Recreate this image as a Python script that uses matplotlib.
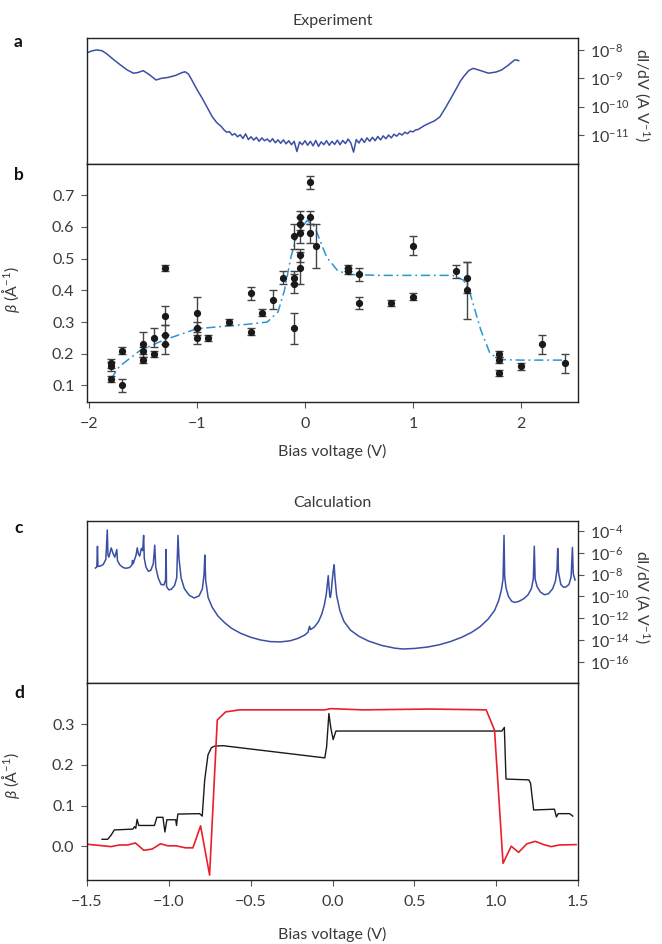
import numpy as np
import matplotlib
matplotlib.use("Agg")
import matplotlib.pyplot as plt
from matplotlib.ticker import FixedLocator, NullLocator, LogFormatterSciNotation

plt.rcParams['font.family'] = ['Lato', 'DejaVu Sans']
plt.rcParams['mathtext.fontset'] = 'custom'
plt.rcParams['mathtext.rm'] = 'Lato'
plt.rcParams['mathtext.it'] = 'Lato:italic'
plt.rcParams['mathtext.bf'] = 'Lato:bold'

# ---------------- Panel a: experimental dI/dV (log10 values) ----------------
exp_left_v = [-2.02, -1.97, -1.93, -1.88, -1.84, -1.78, -1.71, -1.65, -1.59, -1.55, -1.50,
              -1.45, -1.38, -1.33, -1.27, -1.20, -1.14, -1.11, -1.08, -1.05, -1.00, -0.95,
              -0.91, -0.86, -0.82]
exp_left_log = [-8.10, -8.03, -8.00, -8.03, -8.13, -8.32, -8.53, -8.70, -8.82, -8.80, -8.73,
                -8.85, -9.06, -9.00, -8.97, -8.90, -8.80, -8.77, -8.85, -9.05, -9.40, -9.72,
                -10.0, -10.35, -10.55]
exp_mid_v = [-0.800, -0.775, -0.750, -0.725, -0.700, -0.675, -0.650, -0.625, -0.600, -0.575,
             -0.550, -0.525, -0.500, -0.475, -0.450, -0.425, -0.400, -0.375, -0.350, -0.325,
             -0.300, -0.275, -0.250, -0.225, -0.200, -0.175, -0.150, -0.125, -0.100, -0.075,
             -0.050, -0.025, 0.000, 0.025, 0.050, 0.075, 0.100, 0.125, 0.150, 0.175,
             0.200, 0.225, 0.250, 0.275, 0.300, 0.325, 0.350, 0.375, 0.400, 0.425,
             0.450, 0.475, 0.500, 0.525, 0.550, 0.575, 0.600, 0.625, 0.650, 0.675,
             0.700, 0.725, 0.750, 0.775, 0.800, 0.825, 0.850, 0.875, 0.900, 0.925,
             0.950, 0.975, 1.000, 1.025, 1.050, 1.075, 1.100]
exp_mid_log = [-10.62, -10.70, -10.82, -10.90, -10.88, -11.00, -10.95, -11.06, -10.99, -11.12,
               -10.96, -11.16, -11.06, -11.18, -11.08, -11.22, -11.10, -11.20, -11.14, -11.24,
               -11.13, -11.27, -11.17, -11.29, -11.17, -11.31, -11.20, -11.34, -11.22, -11.58,
               -11.24, -11.34, -11.20, -11.36, -11.22, -11.38, -11.19, -11.40, -11.24, -11.34,
               -11.20, -11.36, -11.22, -11.33, -11.18, -11.34, -11.19, -11.30, -11.14, -11.28,
               -11.60, -11.16, -11.28, -11.12, -11.26, -11.10, -11.22, -11.08, -11.20, -11.05,
               -11.17, -11.03, -11.13, -11.00, -11.10, -10.97, -11.04, -10.94, -11.00, -10.90,
               -10.95, -10.86, -10.89, -10.82, -10.80, -10.74, -10.68]
exp_right_v = [1.13, 1.20, 1.25, 1.30, 1.35, 1.40, 1.44, 1.47, 1.52, 1.56, 1.62, 1.70, 1.77,
               1.82, 1.88, 1.94, 1.96, 1.98]
exp_right_log = [-10.62, -10.50, -10.36, -10.05, -9.72, -9.38, -9.10, -8.94, -8.72, -8.65,
                 -8.72, -8.82, -8.78, -8.71, -8.55, -8.36, -8.35, -8.38]

# ---------------- Panel b: experimental beta ----------------
beta_v = [-1.80, -1.80, -1.80, -1.70, -1.70, -1.50, -1.50, -1.50, -1.40, -1.40,
          -1.30, -1.30, -1.30, -1.30, -1.00, -1.00, -1.00, -0.90, -0.70, -0.50,
          -0.50, -0.40, -0.30, -0.20, -0.10, -0.10, -0.10, -0.10, -0.05, -0.05,
          -0.05, -0.05, -0.05, 0.05, 0.05, 0.05, 0.10, 0.40, 0.40, 0.50,
          0.50, 0.80, 1.00, 1.00, 1.40, 1.50, 1.50, 1.80, 1.80, 1.80,
          2.00, 2.20, 2.41]
beta_val = [0.17, 0.16, 0.12, 0.21, 0.10, 0.23, 0.21, 0.18, 0.25, 0.20,
            0.47, 0.32, 0.26, 0.23, 0.33, 0.28, 0.25, 0.25, 0.30, 0.27,
            0.39, 0.33, 0.37, 0.44, 0.57, 0.44, 0.42, 0.28, 0.63, 0.61,
            0.58, 0.51, 0.47, 0.74, 0.63, 0.58, 0.54, 0.47, 0.46, 0.45,
            0.36, 0.36, 0.54, 0.38, 0.46, 0.44, 0.40, 0.20, 0.18, 0.14,
            0.16, 0.23, 0.17]
beta_err = [0.015, 0.015, 0.01, 0.01, 0.02, 0.04, 0.01, 0.01, 0.03, 0.01,
            0.01, 0.03, 0.03, 0.03, 0.05, 0.02, 0.02, 0.01, 0.01, 0.01,
            0.02, 0.01, 0.03, 0.02, 0.04, 0.02, 0.03, 0.05, 0.02, 0.02,
            0.03, 0.02, 0.05, 0.02, 0.02, 0.03, 0.07, 0.01, 0.01, 0.02,
            0.02, 0.01, 0.03, 0.01, 0.02, 0.05, 0.09, 0.01, 0.01, 0.01,
            0.01, 0.03, 0.03]
fit_v = [-1.80, -1.72, -1.53, -1.31, -1.00, -0.53, -0.35, -0.25, -0.19, -0.13, -0.07,
         0.02, 0.09, 0.20, 0.30, 0.40, 0.70, 1.37, 1.47, 1.53, 1.63, 1.71, 1.79, 2.00, 2.41]
fit_val = [0.12, 0.16, 0.21, 0.243, 0.279, 0.293, 0.30, 0.332, 0.40, 0.505, 0.579,
           0.62, 0.60, 0.505, 0.463, 0.45, 0.447, 0.447, 0.432, 0.39, 0.274, 0.205, 0.182,
           0.18, 0.18]

# ---------------- Panel c: calculated dI/dV (log10 values) ----------------
calc_v = [-1.449, -1.440, -1.436, -1.433, -1.415, -1.400, -1.385, -1.376, -1.372, -1.366,
          -1.352, -1.340, -1.330, -1.318, -1.314, -1.300, -1.280, -1.262, -1.240, -1.225,
          -1.222, -1.218, -1.200, -1.193, -1.186, -1.178, -1.168, -1.160, -1.154, -1.150,
          -1.140, -1.125, -1.110, -1.095, -1.086, -1.080, -1.065, -1.048, -1.030, -1.020,
          -1.017, -1.014, -1.000, -0.985, -0.965, -0.952, -0.944, -0.938, -0.925, -0.905,
          -0.875, -0.845, -0.815, -0.795, -0.785, -0.780, -0.775, -0.760, -0.735, -0.700,
          -0.660, -0.620, -0.560, -0.500, -0.440, -0.380, -0.320, -0.260, -0.210, -0.170,
          -0.150, -0.145, -0.140, -0.135, -0.110, -0.085, -0.065, -0.050, -0.038, -0.030,
          -0.026, -0.022, -0.017, -0.013, -0.008, -0.002, 0.005, 0.010, 0.015, 0.025,
          0.045, 0.070, 0.110, 0.160, 0.220, 0.300, 0.380, 0.430, 0.500, 0.580,
          0.650, 0.720, 0.790, 0.850, 0.900, 0.950, 0.990, 1.015, 1.032, 1.042,
          1.048, 1.052, 1.060, 1.075, 1.095, 1.115, 1.140, 1.170, 1.195, 1.215,
          1.227, 1.233, 1.238, 1.250, 1.270, 1.295, 1.320, 1.345, 1.362, 1.372,
          1.376, 1.381, 1.395, 1.410, 1.425, 1.445, 1.458, 1.466, 1.471, 1.482]
calc_log = [-7.40, -7.30, -5.40, -7.25, -7.20, -7.05, -6.60, -3.90, -6.20, -6.40,
            -5.55, -6.10, -6.40, -5.70, -6.70, -7.10, -7.35, -7.42, -7.35, -7.10,
            -6.70, -7.00, -6.20, -5.55, -6.10, -6.30, -5.60, -5.80, -4.40, -6.50,
            -7.30, -7.70, -7.60, -7.00, -5.30, -7.30, -8.30, -8.90, -8.95, -8.50,
            -5.70, -9.10, -9.40, -9.35, -9.00, -8.30, -4.40, -6.50, -8.30, -9.30,
            -9.90, -10.15, -9.95, -9.30, -8.00, -6.20, -8.50, -10.10, -11.00, -11.80,
            -12.40, -12.90, -13.40, -13.75, -14.00, -14.15, -14.18, -14.08, -13.85, -13.55,
            -13.30, -13.00, -12.75, -13.05, -12.80, -12.30, -11.60, -10.80, -9.80, -8.60,
            -8.10, -9.00, -9.90, -10.10, -9.60, -8.60, -7.60, -7.10, -8.30, -9.90,
            -11.30, -12.30, -13.10, -13.65, -14.10, -14.50, -14.75, -14.83, -14.78, -14.65,
            -14.45, -14.15, -13.75, -13.30, -12.80, -12.10, -11.30, -10.40, -9.40, -8.40,
            -4.40, -8.20, -9.20, -10.00, -10.45, -10.55, -10.45, -10.20, -9.85, -9.30,
            -8.40, -5.40, -8.40, -9.10, -9.60, -9.85, -9.75, -9.30, -8.60, -7.50,
            -5.60, -7.80, -8.90, -9.15, -9.15, -8.90, -8.20, -5.50, -7.90, -8.50]

# ---------------- Panel d: calculated beta ----------------
red_v = [-1.502, -1.353, -1.302, -1.251, -1.204, -1.153, -1.102, -1.051, -1.006, -0.955,
         -0.898, -0.853, -0.806, -0.751, -0.704, -0.653, -0.567, -0.047, -0.012, 0.188,
         0.596, 0.939, 0.990, 1.042, 1.092, 1.137, 1.188, 1.239, 1.290, 1.336, 1.386, 1.488]
red_val = [0.005, -0.001, 0.003, 0.003, 0.008, -0.010, -0.007, 0.006, 0.001, 0.001,
           -0.004, -0.004, 0.050, -0.071, 0.310, 0.330, 0.335, 0.335, 0.338, 0.335,
           0.337, 0.335, 0.285, -0.042, 0.000, -0.015, 0.006, 0.012, 0.004, -0.001, 0.003, 0.004]
black_v = [-1.408, -1.374, -1.353, -1.333, -1.220, -1.210, -1.202, -1.194, -1.184, -1.155,
           -1.088, -1.073, -1.036, -1.024, -1.012, -0.958, -0.953, -0.945, -0.812, -0.796,
           -0.781, -0.761, -0.740, -0.720, -0.669, -0.047, -0.036, -0.022, -0.010, 0.004,
           0.021, 1.035, 1.050, 1.060, 1.199, 1.210, 1.229, 1.356, 1.368, 1.379, 1.449, 1.468]
black_val = [0.017, 0.017, 0.027, 0.040, 0.042, 0.048, 0.044, 0.066, 0.051, 0.051,
             0.051, 0.071, 0.071, 0.035, 0.065, 0.065, 0.051, 0.079, 0.080, 0.074,
             0.162, 0.224, 0.242, 0.246, 0.247, 0.217, 0.244, 0.326, 0.290, 0.262,
             0.283, 0.283, 0.292, 0.165, 0.163, 0.155, 0.089, 0.091, 0.072, 0.080, 0.080, 0.074]

# ====================== figure ======================
W, H = 662, 944
fig = plt.figure(figsize=(W / 100, H / 100), dpi=100)

def rect(top, bottom, left=87, right=578):
    return [left / W, (H - bottom) / H, (right - left) / W, (bottom - top) / H]

ax_a = fig.add_axes(rect(38, 164))
ax_b = fig.add_axes(rect(164, 402))
ax_c = fig.add_axes(rect(521, 683))
ax_d = fig.add_axes(rect(683, 880))

TXT = '#3a3a3a'
FS = 11.5
BLUE = '#3b4fa3'

for ax in (ax_a, ax_b, ax_c, ax_d):
    for s in ax.spines.values():
        s.set_color('#222222')
        s.set_linewidth(1.0)
    ax.tick_params(direction='out', length=4, width=0.8, color='#555555',
                   labelsize=FS, labelcolor=TXT)
    ax.tick_params(axis='x', pad=7)
    ax.tick_params(axis='y', pad=5)

# panel a
va = np.concatenate([exp_left_v, exp_mid_v, exp_right_v])
la = np.concatenate([exp_left_log, exp_mid_log, exp_right_log])
ax_a.plot(va, 10.0 ** la, color=BLUE, lw=1.1)
ax_a.set_yscale('log')
ax_a.set_xlim(-2.02, 2.53)
ax_a.set_ylim(10 ** -12.02, 10 ** -7.58)
ax_a.yaxis.set_major_locator(FixedLocator([1e-11, 1e-10, 1e-9, 1e-8]))
ax_a.yaxis.set_major_formatter(LogFormatterSciNotation())
ax_a.yaxis.set_minor_locator(NullLocator())
ax_a.yaxis.tick_right()
ax_a.set_xticks([])
ax_a.set_title('Experiment', fontsize=FS, color=TXT, pad=9)
ax_a.set_ylabel('dI/dV (A V$^{-1}$)', fontsize=FS, color=TXT, rotation=270)
ax_a.yaxis.set_label_position('right')
ax_a.yaxis.set_label_coords(1.15, 0.55)

# panel b
ax_b.plot(fit_v, fit_val, color='#2a95d5', lw=1.1, ls=(0, (6, 2.5, 1.2, 2.5)), zorder=1)
ax_b.errorbar(beta_v, beta_val, yerr=beta_err, fmt='o', ms=4.2, color='#1a1a1a',
              ecolor='#444444', elinewidth=1.0, capsize=3.0, capthick=1.0, zorder=3)
ax_b.set_xlim(-2.02, 2.53)
ax_b.set_ylim(0.048, 0.798)
ax_b.set_xticks([-2, -1, 0, 1, 2])
ax_b.set_xticklabels(['\u22122', '\u22121', '0', '1', '2'])
ax_b.set_yticks([0.1, 0.2, 0.3, 0.4, 0.5, 0.6, 0.7])
ax_b.set_xlabel('Bias voltage (V)', fontsize=FS, color=TXT)
ax_b.xaxis.set_label_coords(0.5, -0.175)
ax_b.set_ylabel(r'$\beta$ (Å$^{-1}$)', fontsize=FS, color=TXT)
ax_b.yaxis.set_label_coords(-0.132, 0.47)

# panel c
ax_c.plot(calc_v, 10.0 ** np.array(calc_log), color=BLUE, lw=1.1)
ax_c.set_yscale('log')
ax_c.set_xlim(-1.5, 1.5)
ax_c.set_ylim(10 ** -17.95, 10 ** -3.08)
ax_c.yaxis.set_major_locator(FixedLocator([1e-16, 1e-14, 1e-12, 1e-10, 1e-8, 1e-6, 1e-4]))
ax_c.yaxis.set_major_formatter(LogFormatterSciNotation())
ax_c.yaxis.set_minor_locator(NullLocator())
ax_c.yaxis.tick_right()
ax_c.set_xticks([])
ax_c.set_title('Calculation', fontsize=FS, color=TXT, pad=10)
ax_c.set_ylabel('dI/dV (A V$^{-1}$)', fontsize=FS, color=TXT, rotation=270)
ax_c.yaxis.set_label_position('right')
ax_c.yaxis.set_label_coords(1.15, 0.53)

# panel d
ax_d.plot(black_v, black_val, color='#1a1a1a', lw=1.0)
ax_d.plot(red_v, red_val, color='#e8202a', lw=1.2)
ax_d.set_xlim(-1.5, 1.5)
ax_d.set_ylim(-0.083, 0.401)
ax_d.set_xticks([-1.5, -1.0, -0.5, 0.0, 0.5, 1.0, 1.5])
ax_d.set_xticklabels(['\u22121.5', '\u22121.0', '\u22120.5', '0.0', '0.5', '1.0', '1.5'])
ax_d.set_yticks([0.0, 0.1, 0.2, 0.3])
ax_d.set_yticklabels(['0.0', '0.1', '0.2', '0.3'])
ax_d.set_xlabel('Bias voltage (V)', fontsize=FS, color=TXT)
ax_d.xaxis.set_label_coords(0.5, -0.24)
ax_d.set_ylabel(r'$\beta$ (Å$^{-1}$)', fontsize=FS, color=TXT)
ax_d.yaxis.set_label_coords(-0.132, 0.53)

for lab, y in (('a', 42), ('b', 175), ('c', 528), ('d', 693)):
    fig.text(14 / W, 1 - y / H, lab, fontsize=12.5, fontweight='bold', color='#111111',
             ha='left', va='center')

fig.savefig('out.png', dpi=100)
